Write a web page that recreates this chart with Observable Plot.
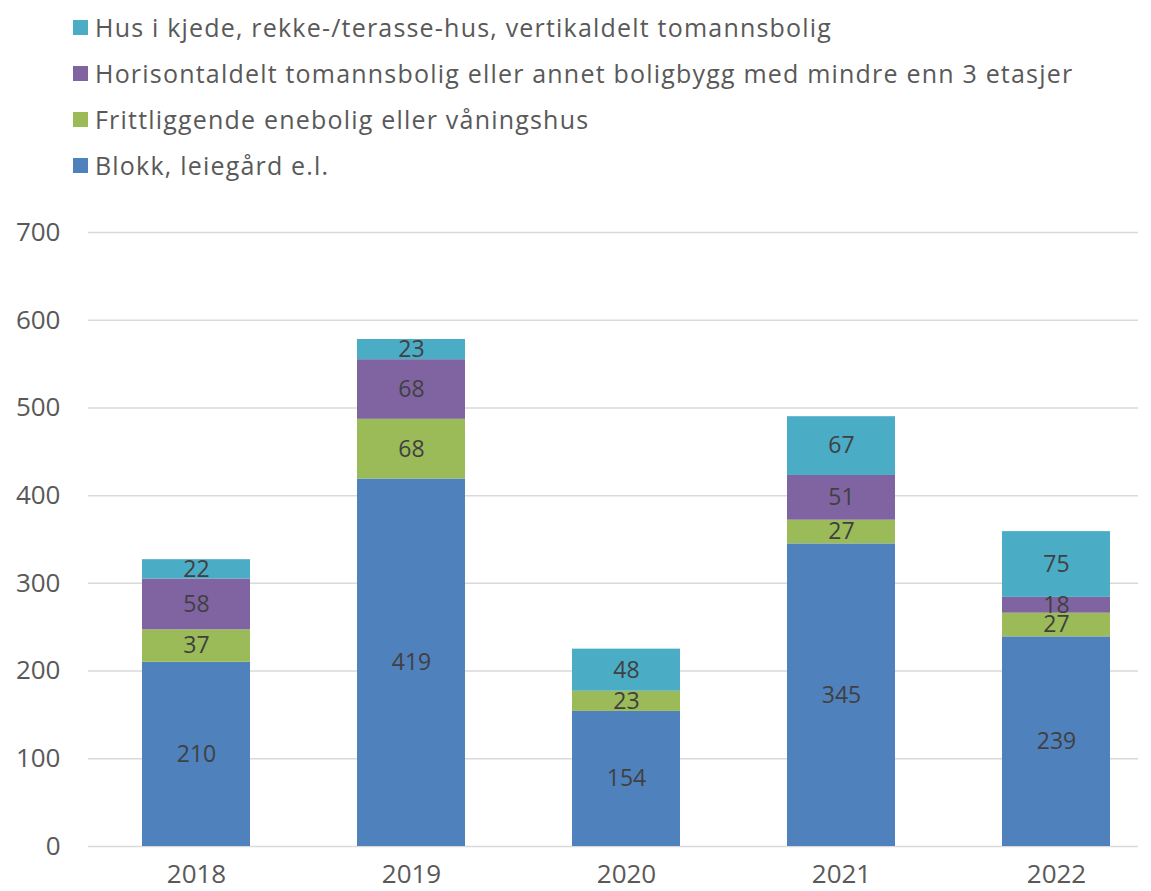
<!DOCTYPE html>
<html>
<head>
<meta charset="utf-8">
<script src="https://cdn.jsdelivr.net/npm/d3@7"></script>
<script src="https://cdn.jsdelivr.net/npm/@observablehq/plot@0.6"></script>
<style>
  html, body { margin: 0; padding: 0; background: #fff; }
  body { width: 1151px; height: 891px; overflow: hidden; font-family: "Open Sans", Lato, sans-serif; }
  #legend { position: relative; height: 200px; }
  .item { position: absolute; left: 73px; height: 30px; display: flex; align-items: center; font-size: 25px; letter-spacing: 1.2px; color: #595959; white-space: nowrap; }
  .sw { width: 15px; height: 15px; margin-right: 7px; }
</style>
</head>
<body>
<div id="legend"></div>
<div id="chart"></div>
<script>
const years = ["2018", "2019", "2020", "2021", "2022"];
const types = [
  "Blokk, leiegård e.l.",
  "Frittliggende enebolig eller våningshus",
  "Horisontaldelt tomannsbolig eller annet boligbygg med mindre enn 3 etasjer",
  "Hus i kjede, rekke-/terasse-hus, vertikaldelt tomannsbolig"
];
const colors = ["#4F81BD", "#9BBB59", "#8064A2", "#4BACC6"];
const blokk = [210, 419, 154, 345, 239];
const frittliggende = [37, 68, 23, 27, 27];
const horisontaldelt = [58, 68, 0, 51, 18];
const husIKjede = [22, 23, 48, 67, 75];
const yTicks = [0, 100, 200, 300, 400, 500, 600, 700];

const series = [blokk, frittliggende, horisontaldelt, husIKjede];
const data = [];
types.forEach((t, i) => years.forEach((y, j) => data.push({year: y, type: t, value: series[i][j]})));

// Legend (top to bottom reversed order)
const legend = document.getElementById("legend");
const legendOrder = [3, 2, 1, 0];
legendOrder.forEach((idx, k) => {
  const d = document.createElement("div");
  d.className = "item";
  d.style.top = (12 + k * 46) + "px";
  d.innerHTML = `<span class="sw" style="background:${colors[idx]}"></span><span></span>`;
  d.lastChild.textContent = types[idx];
  legend.appendChild(d);
});

const chart = Plot.plot({
  width: 1151,
  height: 691,
  marginTop: 32,
  marginBottom: 45,
  marginLeft: 88,
  marginRight: 13,
  style: {fontFamily: "'Open Sans', Lato, sans-serif", fontSize: "26px", color: "#595959", background: "#fff"},
  x: {domain: years, range: [88, 1163], paddingInner: 0.5, paddingOuter: 0.25, label: null, tickSize: 0, tickPadding: 18},
  y: {domain: [0, 700], ticks: yTicks, label: null, tickSize: 0, tickPadding: 28, tickFormat: d => String(d)},
  color: {domain: types, range: colors},
  marks: [
    Plot.ruleY(yTicks, {stroke: "#d9d9d9", strokeWidth: 1.5}),
    Plot.barY(data, Plot.stackY({x: "year", y: "value", fill: "type", order: types})),
    Plot.text(data.filter(d => d.value > 0), Plot.stackY({x: "year", y: "value", z: "type", order: types, text: d => String(d.value), fill: "#404040", fontSize: 23}))
  ]
});
document.getElementById("chart").appendChild(chart);
</script>
</body>
</html>
